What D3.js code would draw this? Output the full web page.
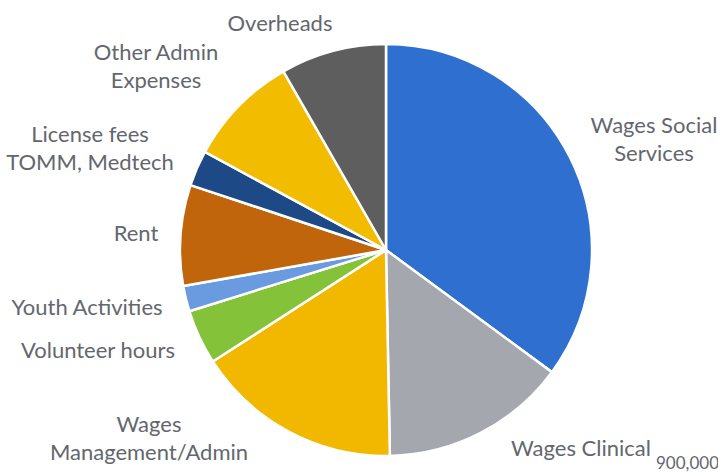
<!DOCTYPE html>
<html>
<head>
<meta charset="utf-8">
<script src="https://cdn.jsdelivr.net/npm/d3@7"></script>
<style>
  html, body { margin: 0; padding: 0; background: #fff; overflow: hidden; }
  svg { display: block; }
  text { font-family: Lato, "Liberation Sans", sans-serif; fill: #63676d; }
</style>
</head>
<body>
<div id="chart-mount"></div>
<script>
var WIDTH = 718;
var HEIGHT = 475;

// budget share per category, %
var categories = [
  'Wages Social Services',
  'Wages Clinical',
  'Wages Management/Admin',
  'Volunteer hours',
  'Youth Activities',
  'Rent',
  'License fees TOMM, Medtech',
  'Other Admin Expenses',
  'Overheads'
];
var shares = [35.1, 14.6, 16.2, 4.3, 2.0, 7.9, 2.8, 8.8, 8.3];
var labelLines = [
  ['Wages Social', 'Services'],
  ['Wages Clinical'],
  ['Wages', 'Management/Admin'],
  ['Volunteer hours'],
  ['Youth Activities'],
  ['Rent'],
  ['License fees', 'TOMM, Medtech'],
  ['Other Admin', 'Expenses'],
  ['Overheads']
];
var axisNote = '900,000';

var COLORS = ['#2f6fd0', '#a4a7ae', '#f2b800', '#84c23a', '#6a9ae0',
  '#c0650c', '#1d4a86', '#f2bd00', '#5e5e5e'];

// where Excel's best-fit put each label (first line baseline, centre x)
var labelAt = [
  [654, 133], [581, 456], [149, 432], [98, 358], [87, 315],
  [136, 241], [90, 142], [156, 60], [280, 31]
];
var LINE_GAP = 28;

var cx = 386;
var cy = 250;
var radius = 206;

var $svg = d3.select('#chart-mount').append('svg')
  .attr('width', WIDTH)
  .attr('height', HEIGHT);

var pie = d3.pie().sort(null).value(function (d) { return d; });
var arc = d3.arc().innerRadius(0).outerRadius(radius);
var color = d3.scaleOrdinal().domain(categories).range(COLORS);

var slices = pie(shares);

$svg.append('g')
    .attr('transform', 'translate(' + cx + ',' + cy + ')')
  .selectAll('path')
    .data(slices)
    .enter()
      .append('path')
      .attr('d', arc)
      .attr('fill', function (d, i) { return color(categories[i]); })
      .attr('stroke', '#fff')
      .attr('stroke-width', 2.5)
      .attr('stroke-linejoin', 'round');

var $labels = $svg.append('g')
  .selectAll('text')
    .data(categories)
    .enter()
      .append('text')
      .attr('text-anchor', 'middle')
      .attr('font-size', 22)
      .attr('x', function (d, i) { return labelAt[i][0]; })
      .attr('y', function (d, i) { return labelAt[i][1]; });

$labels.each(function (d, i) {
  d3.select(this).selectAll('tspan')
    .data(labelLines[i])
    .enter()
      .append('tspan')
      .attr('x', labelAt[i][0])
      .attr('dy', function (t, j) { return j === 0 ? 0 : LINE_GAP; })
      .text(function (t) { return t; });
});

$svg.append('text')
  .attr('x', 656)
  .attr('y', 469)
  .attr('font-size', 17)
  .text(axisNote);
</script>
</body>
</html>
